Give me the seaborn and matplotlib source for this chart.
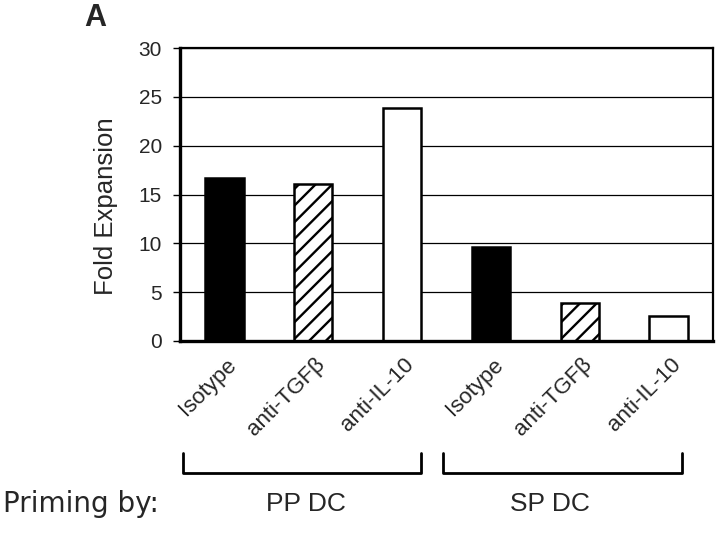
import numpy as np
import pandas as pd
import seaborn as sns
import matplotlib.pyplot as plt
from matplotlib.lines import Line2D
from matplotlib.transforms import ScaledTranslation

# data
groups = ["PP DC", "PP DC", "PP DC", "SP DC", "SP DC", "SP DC"]
treatments = ["Isotype", "anti-TGFβ", "anti-IL-10", "Isotype", "anti-TGFβ", "anti-IL-10"]
fold = [16.7, 16.1, 23.9, 9.65, 3.9, 2.6]
yticks = [0, 5, 10, 15, 20, 25, 30]

df = pd.DataFrame({"group": groups, "treatment": treatments, "fold": fold})
df["bar"] = df["group"] + " " + df["treatment"]

sns.set_theme(style="white")
plt.rcParams["font.family"] = ["Liberation Sans", "DejaVu Sans"]
plt.rcParams["hatch.linewidth"] = 1.7

fig = plt.figure(figsize=(7.2, 5.34), dpi=100)
ax = fig.add_axes([180 / 720, 1 - 341 / 534, 533 / 720, 293 / 534])

pal = {"Isotype": "black", "anti-TGFβ": "white", "anti-IL-10": "white"}
sns.barplot(
    data=df, x="bar", y="fold", hue="treatment", palette=pal, dodge=False,
    width=0.43, edgecolor="black", linewidth=1.8, legend=False, saturation=1, ax=ax,
)
# hatched anti-TGFb bars
for p in ax.containers[1]:
    p.set_hatch("//")

ax.set_ylim(0, 30)
ax.set_xlim(-0.5, 5.5)
ax.set_yticks(yticks)
ax.set_yticklabels([str(t) for t in yticks], fontsize=15)
ax.yaxis.grid(True, color="black", linewidth=0.9)
ax.set_axisbelow(True)
ax.tick_params(axis="y", left=True, length=5, width=1, color="black", pad=8)
ax.tick_params(axis="x", bottom=False, length=0, pad=2)
for s in ax.spines.values():
    s.set_color("black")
    s.set_linewidth(1.6)
ax.spines["left"].set_linewidth(2.4)
ax.spines["bottom"].set_linewidth(2.4)

ax.set_xticks(range(len(treatments)))
ax.set_xticklabels(treatments, rotation=45, ha="right", va="center",
                   rotation_mode="anchor", fontsize=16)
shift = ScaledTranslation(9 / 100, -18 / 100, fig.dpi_scale_trans)
for lab in ax.get_xticklabels():
    lab.set_transform(lab.get_transform() + shift)

ax.set_xlabel("")
ax.set_ylabel("Fold Expansion", fontsize=18.5)
ax.yaxis.set_label_coords((118 - 180) / 533, (341 - 206) / 293)

# group brackets
y_top, y_bot = 1 - 453 / 534, 1 - 473 / 534
for x0, x1 in [(183, 421), (443, 682)]:
    fx0, fx1 = x0 / 720, x1 / 720
    fig.add_artist(Line2D([fx0, fx0, fx1, fx1], [y_top, y_bot, y_bot, y_top],
                          color="black", linewidth=2))

fig.text(3 / 720, 1 - 504 / 534, "Priming by:", fontsize=20, va="center",
         family=["DejaVu Sans"])
fig.text(306 / 720, 1 - 504 / 534, "PP DC", fontsize=19, va="center", ha="center")
fig.text(550 / 720, 1 - 504 / 534, "SP DC", fontsize=19, va="center", ha="center")
fig.text(95 / 720, 1 - 18 / 534, "A", fontsize=22, fontweight="bold",
         va="center", ha="center")

fig.savefig("out.png", dpi=100)
